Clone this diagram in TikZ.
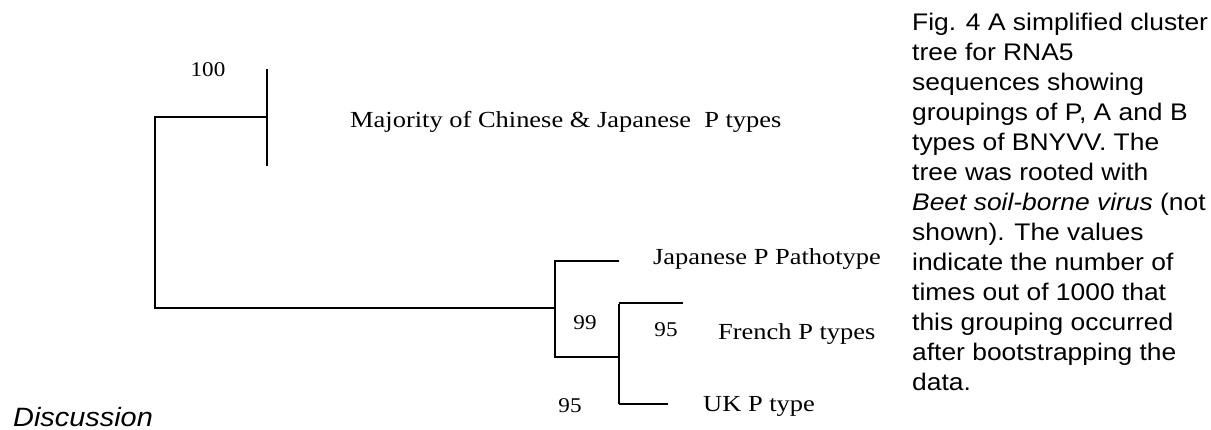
\documentclass[tikz,border=0pt]{standalone}
\usepackage{fontspec}
\setmainfont{Liberation Serif}
\setsansfont{Liberation Sans}
\usetikzlibrary{positioning}
\newcommand{\wider}[2][1.15]{\scalebox{#1}[1]{#2}}

\tikzset{
  branch/.style={line width=2.2pt},
  twig/.style={line width=1.1pt},
  taxon/.style={anchor=base west, inner sep=0pt, font=\fontsize{23}{27}\selectfont},
  boot/.style={anchor=base, inner sep=0pt, font=\fontsize{21}{25}\selectfont},
}

\begin{document}
\begin{tikzpicture}[x=1pt,y=-1pt]
\useasboundingbox (0,0) rectangle (1211,430);
% branch points and tips
\coordinate (rootT) at (155,117);
\coordinate (rootB) at (155,308);
\coordinate (cladeA) at (267,117);
\coordinate (cladeAT) at (267,69);
\coordinate (cladeAB) at (267,166);
\coordinate (cladeB) at (555,308);
\coordinate (cladeBT) at (555,261);
\coordinate (cladeBB) at (555,357);
\coordinate (japTip) at (619,261);
\coordinate (cladeC) at (619,357);
\coordinate (cladeCT) at (619,304);
\coordinate (cladeCB) at (619,404);
\coordinate (frTip) at (683,303);
\coordinate (ukTip) at (668,404);

\draw[branch] (cladeA) -- (rootT) -- (rootB) -- (cladeB);
\draw[branch] (cladeAT) -- (cladeAB);
\draw[branch] (japTip) -- (cladeBT) -- (cladeBB) -- (cladeC);
\draw[branch] (cladeCT) -- (cladeCB);
\draw[line width=1.8pt] (cladeCB) -- (ukTip);
\draw[twig] (cladeCT |- frTip) -- (frTip);

% taxa
\node[taxon] (majority) at (350,128) {\wider{Majority of Chinese \& Japanese\ \ P types}};
\node[taxon] (japanese) at (653,265) {\wider{Japanese P Pathotype}};
\node[taxon] (french) at (718,340) {\wider{French P types}};
\node[taxon] (uk) at (703,411) {\wider{UK P type}};

% bootstrap values
\node[boot] (bootA) at (208,77) {\wider[1.1]{100}};
\node[boot] (bootB) at (585,330) {\wider[1.1]{99}};
\node[boot] (bootF) at (666,337) {\wider[1.1]{95}};
\node[boot] (bootU) at (570,413) {\wider[1.1]{95}};

\node[anchor=base west, inner sep=0pt, font=\sffamily\fontsize{24}{30}\selectfont] (caption) at (912,30.7)
  {\wider[1.1]{\parbox[t]{320pt}{\raggedright
  Fig. 4 A simplified cluster\\
  tree for RNA5\\
  sequences showing\\
  groupings of P, A and B\\
  types of BNYVV. The\\
  tree was rooted with\\
  \textit{Beet soil-borne virus} (not\\
  shown). The values\\
  indicate the number of\\
  times out of 1000 that\\
  this grouping occurred\\
  after bootstrapping the\\
  data.}}};

\node[anchor=base west, inner sep=0pt, font=\sffamily\itshape\fontsize{26.5}{30}\selectfont] (discussion) at (13,427) {\wider[1.09]{Discussion}};
\end{tikzpicture}
\end{document}
